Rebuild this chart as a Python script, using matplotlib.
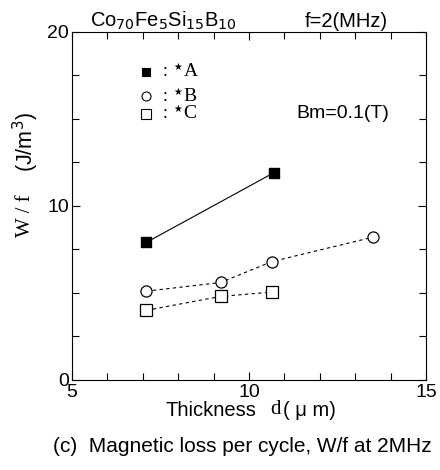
import matplotlib
matplotlib.use("Agg")
import matplotlib.pyplot as plt
from matplotlib.ticker import MultipleLocator

plt.rcParams['font.family'] = ['Liberation Sans', 'DejaVu Sans']
SERIF = ['Liberation Serif', 'DejaVu Serif']

# data
thick_A = [7.1, 10.7]
loss_A = [7.9, 11.9]
thick_B = [7.1, 9.2, 10.65, 13.5]
loss_B = [5.1, 5.6, 6.8, 8.2]
thick_C = [7.1, 9.2, 10.65]
loss_C = [4.0, 4.8, 5.05]
legend_letters = ["A", "B", "C"]

fig = plt.figure(figsize=(4.4, 4.7), dpi=100)
ax = fig.add_axes([0.1636, 0.1915, 0.8045, 0.741])

ax.plot(thick_A, loss_A, color='black', lw=0.8, ls='-', marker='s', ms=7,
        mfc='black', mec='black')
ax.plot(thick_B, loss_B, color='black', lw=0.8, ls=(0, (3, 3)), marker='o', ms=8,
        mfc='white', mec='black', mew=0.9)
ax.plot(thick_C, loss_C, color='black', lw=0.8, ls=(0, (3, 3)), marker='s', ms=8,
        mfc='white', mec='black', mew=0.9)

ax.set_xlim(5, 15)
ax.set_ylim(0, 20)
ax.set_xticks([5, 10, 15])
ax.set_yticks([0, 10, 20])
ax.xaxis.set_minor_locator(MultipleLocator(1))
ax.yaxis.set_minor_locator(MultipleLocator(2.5))
ax.tick_params(which='both', direction='in', top=True, right=True, length=5,
               width=0.8, labelsize=14)
ax.tick_params(which='major', length=6)
ax.tick_params(axis='x', pad=3)
ax.tick_params(axis='y', pad=2)
for s in ax.spines.values():
    s.set_linewidth(0.8)

# legend (manual)
leg_y = [17.7, 16.3, 15.3]
leg_m = [dict(marker='s', mfc='black', ms=6), dict(marker='o', mfc='white', ms=6.5),
         dict(marker='s', mfc='white', ms=6.5)]
for yy, mk, lab in zip(leg_y, leg_m, legend_letters):
    ax.plot([7.1], [yy], ls='none', mec='black', mew=0.8, **mk)
    ax.text(7.55, yy, ':', fontsize=13, va='center', ha='left', family=SERIF)
    ax.text(7.85, yy + 0.25, '\u2605', fontsize=7, va='center', ha='left',
            family=['DejaVu Sans'])
    ax.text(8.15, yy, lab, fontsize=14, va='center', ha='left', family=SERIF)

ax.text(12.65, 15.3, 'Bm=0.1(T)', fontsize=14, ha='center', va='center')

fig.text(90 / 440, 1 - 27 / 470, 'Co$_{70}$Fe$_5$Si$_{15}$B$_{10}$', fontsize=14.5,
         ha='left', va='baseline')
fig.text(305 / 440, 1 - 27 / 470, 'f=2(MHz)', fontsize=14.5, ha='left',
         va='baseline')

fig.text(25 / 440, 1 - 216 / 470, 'W / f', fontsize=15, rotation=90,
         ha='center', va='center', family=SERIF)
fig.text(26 / 440, 1 - 142 / 470, '(J/m$^3$)', fontsize=15.5, rotation=90,
         ha='center', va='center')
fig.text(211 / 440, 1 - 410 / 470, 'Thickness', fontsize=14.5,
         ha='center', va='center')
fig.text(270 / 440, 1 - 410 / 470, 'd', fontsize=15, ha='left', va='center',
         family=SERIF)
fig.text(283 / 440, 1 - 410 / 470, '( \u03bc m)', fontsize=14.5, ha='left',
         va='center')
fig.text(53 / 440, 1 - 447 / 470, '(c)  Magnetic loss per cycle, W/f at 2MHz',
         fontsize=15, ha='left', va='center')

fig.savefig('out.png', dpi=100)
